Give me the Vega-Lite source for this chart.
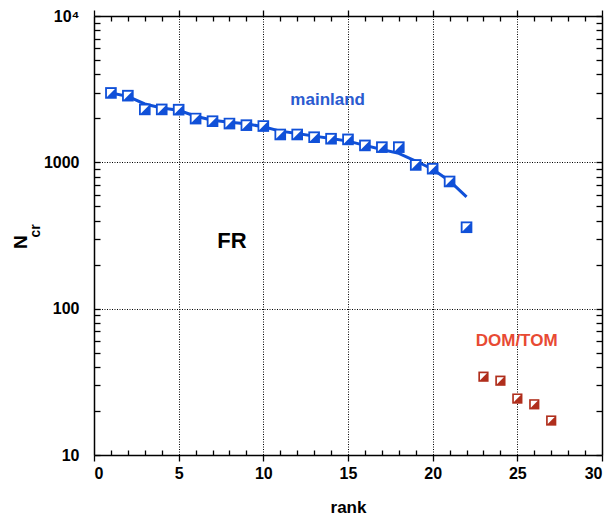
{
  "$schema": "https://vega.github.io/schema/vega-lite/v6.json",
  "width": 508,
  "height": 439,
  "autosize": {"type": "none"},
  "padding": {"left": 94, "top": 16, "right": 12, "bottom": 63},
  "background": "white",
  "view": {"stroke": null},
  "config": {
    "axis": {
      "labelFont": "Liberation Sans",
      "labelFontWeight": "bold",
      "labelFontSize": 16,
      "labelColor": "black",
      "titleFont": "Liberation Sans",
      "titleFontWeight": "bold",
      "titleFontSize": 17,
      "titleColor": "black",
      "domainColor": "black",
      "domainWidth": 1.5,
      "ticks": true,
      "tickColor": "black",
      "tickWidth": 1.3,
      "gridColor": "black",
      "gridDash": [1, 1.5],
      "gridWidth": 1
    }
  },
  "datasets": {
    "mainland": [
      {"rank": 1, "N": 2980}, {"rank": 2, "N": 2855}, {"rank": 3, "N": 2300},
      {"rank": 4, "N": 2300}, {"rank": 5, "N": 2290}, {"rank": 6, "N": 1990},
      {"rank": 7, "N": 1910}, {"rank": 8, "N": 1840}, {"rank": 9, "N": 1795},
      {"rank": 10, "N": 1770}, {"rank": 11, "N": 1550}, {"rank": 12, "N": 1550},
      {"rank": 13, "N": 1485}, {"rank": 14, "N": 1450}, {"rank": 15, "N": 1435},
      {"rank": 16, "N": 1305}, {"rank": 17, "N": 1270}, {"rank": 18, "N": 1270},
      {"rank": 19, "N": 960}, {"rank": 20, "N": 905}, {"rank": 21, "N": 740},
      {"rank": 22, "N": 360}
    ],
    "fit": [
      {"rank": 1, "N": 2980}, {"rank": 2, "N": 2825}, {"rank": 3, "N": 2506},
      {"rank": 4, "N": 2355}, {"rank": 5, "N": 2270}, {"rank": 6, "N": 2067},
      {"rank": 7, "N": 1940}, {"rank": 8, "N": 1880}, {"rank": 9, "N": 1834},
      {"rank": 10, "N": 1750}, {"rank": 11, "N": 1634}, {"rank": 12, "N": 1575},
      {"rank": 13, "N": 1510}, {"rank": 14, "N": 1456}, {"rank": 15, "N": 1396},
      {"rank": 16, "N": 1306}, {"rank": 17, "N": 1225}, {"rank": 18, "N": 1151},
      {"rank": 19, "N": 1021}, {"rank": 20, "N": 897}, {"rank": 21, "N": 746},
      {"rank": 22, "N": 581}
    ],
    "domtom": [
      {"rank": 23, "N": 34.3}, {"rank": 24, "N": 32.2}, {"rank": 25, "N": 24.3},
      {"rank": 26, "N": 22.2}, {"rank": 27, "N": 17.2}
    ],
    "labels": [
      {"rank": 13.8, "N": 2665, "text": "mainland", "group": "mainland"},
      {"rank": 8.15, "N": 288, "text": "FR", "group": "fr"},
      {"rank": 24.96, "N": 60.1, "text": "DOM/TOM", "group": "domtom"}
    ]
  },
  "resolve": {"axis": {"x": "independent", "y": "independent"}},
  "layer": [
    {
      "data": {"name": "fit"},
      "mark": {"type": "line", "color": "#1050d8", "strokeWidth": 3, "clip": false},
      "encoding": {
        "x": {
          "field": "rank", "type": "quantitative",
          "scale": {"domain": [0, 30], "nice": false, "zero": false},
          "axis": {
            "orient": "bottom",
            "title": "rank",
            "titlePadding": 18,
            "values": [0,1,2,3,4,5,6,7,8,9,10,11,12,13,14,15,16,17,18,19,20,21,22,23,24,25,26,27,28,29,30],
            "labelExpr": "datum.value % 5 === 0 ? '' + datum.value : ''",
            "labelPadding": 4,
            "tickSize": {"condition": {"test": "datum.value % 5 === 0", "value": 6}, "value": -5},
            "grid": true,
            "gridOpacity": {"condition": {"test": "datum.value % 5 === 0 && datum.value > 0 && datum.value < 30", "value": 1}, "value": 0}
          }
        },
        "y": {
          "field": "N", "type": "quantitative",
          "scale": {"type": "log", "domain": [10, 10000], "nice": false},
          "axis": {
            "orient": "left",
            "title": null,
            "values": [10,20,30,40,50,60,70,80,90,100,200,300,400,500,600,700,800,900,1000,2000,3000,4000,5000,6000,7000,8000,9000,10000],
            "labelExpr": "datum.value === 10000 ? '10⁴' : (datum.value === 10 || datum.value === 100 || datum.value === 1000) ? '' + datum.value : ''",
            "labelPadding": 21,
            "tickSize": -6,
            "grid": true,
            "gridOpacity": {"condition": {"test": "datum.value === 100 || datum.value === 1000", "value": 1}, "value": 0}
          }
        }
      }
    },
    {
      "data": {"name": "mainland"},
      "mark": {"type": "point", "shape": "square", "filled": true, "color": "#1050d8", "size": 135, "opacity": 1},
      "encoding": {
        "x": {
          "field": "rank", "type": "quantitative",
          "axis": {
            "orient": "top", "title": null, "labels": false, "grid": false,
            "values": [0,1,2,3,4,5,6,7,8,9,10,11,12,13,14,15,16,17,18,19,20,21,22,23,24,25,26,27,28,29,30],
            "tickSize": {"condition": {"test": "datum.value % 5 === 0", "value": 6}, "value": -5}
          }
        },
        "y": {
          "field": "N", "type": "quantitative",
          "axis": {
            "orient": "right", "title": null, "labels": false, "grid": false,
            "values": [10,20,30,40,50,60,70,80,90,100,200,300,400,500,600,700,800,900,1000,2000,3000,4000,5000,6000,7000,8000,9000,10000],
            "tickSize": -6
          }
        }
      }
    },
    {
      "data": {"name": "mainland"},
      "mark": {"type": "point", "shape": "M-1,-1L1,-1L-1,1Z", "filled": true, "color": "white", "size": 64, "opacity": 1},
      "encoding": {
        "x": {"field": "rank", "type": "quantitative", "axis": null},
        "y": {"field": "N", "type": "quantitative", "axis": null}
      }
    },
    {
      "data": {"name": "domtom"},
      "mark": {"type": "point", "shape": "square", "filled": true, "color": "#b02e1c", "size": 105, "opacity": 1},
      "encoding": {
        "x": {"field": "rank", "type": "quantitative", "axis": null},
        "y": {"field": "N", "type": "quantitative", "axis": null}
      }
    },
    {
      "data": {"name": "domtom"},
      "mark": {"type": "point", "shape": "M-1,-1L1,-1L-1,1Z", "filled": true, "color": "white", "size": 48, "opacity": 1},
      "encoding": {
        "x": {"field": "rank", "type": "quantitative", "axis": null},
        "y": {"field": "N", "type": "quantitative", "axis": null}
      }
    },
    {
      "data": {"name": "labels"},
      "mark": {"type": "text", "font": "Liberation Sans", "fontWeight": "bold", "align": "center", "baseline": "middle"},
      "encoding": {
        "x": {"field": "rank", "type": "quantitative", "axis": null},
        "y": {"field": "N", "type": "quantitative", "axis": null},
        "text": {"field": "text"},
        "size": {
          "field": "group", "type": "nominal", "legend": null,
          "scale": {"type": "ordinal", "domain": ["mainland", "fr", "domtom"], "range": [17, 22, 17]}
        },
        "color": {
          "field": "group", "type": "nominal", "legend": null,
          "scale": {"domain": ["mainland", "fr", "domtom"], "range": ["#2a5bd0", "#000000", "#e84a33"]}
        }
      }
    },
    {
      "data": {"values": [{"rank": -4.3, "N": 285, "text": "N"}]},
      "mark": {"type": "text", "font": "Liberation Sans", "fontWeight": "bold", "fontSize": 19, "angle": 270, "align": "center", "baseline": "middle", "color": "black", "clip": false},
      "encoding": {
        "x": {"field": "rank", "type": "quantitative", "axis": null},
        "y": {"field": "N", "type": "quantitative", "axis": null},
        "text": {"field": "text"}
      }
    },
    {
      "data": {"values": [{"rank": -3.45, "N": 340, "text": "cr"}]},
      "mark": {"type": "text", "font": "Liberation Sans", "fontWeight": "bold", "fontSize": 14, "angle": 270, "align": "center", "baseline": "middle", "color": "black", "clip": false},
      "encoding": {
        "x": {"field": "rank", "type": "quantitative", "axis": null},
        "y": {"field": "N", "type": "quantitative", "axis": null},
        "text": {"field": "text"}
      }
    }
  ]
}
